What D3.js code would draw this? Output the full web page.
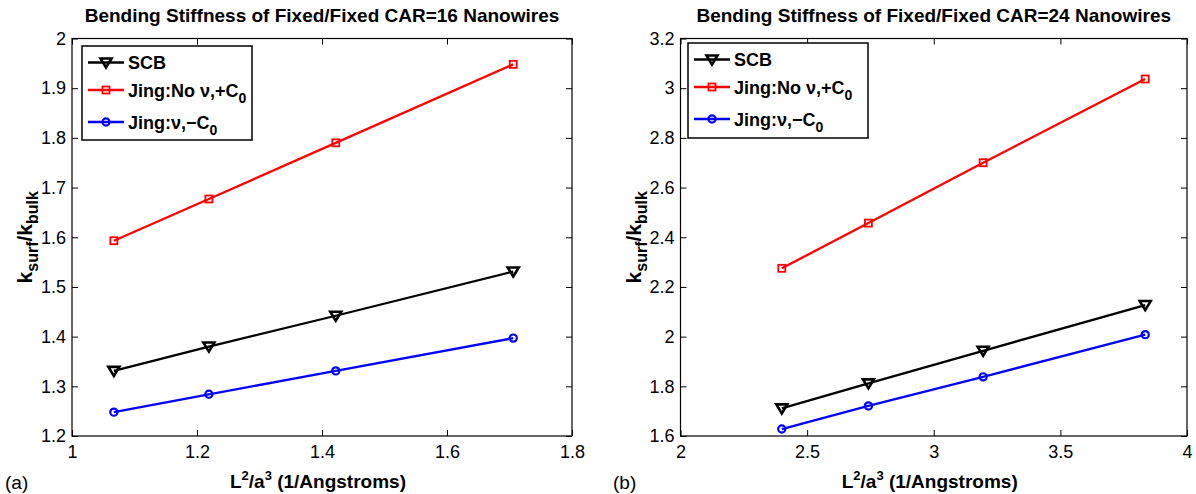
<!DOCTYPE html>
<html><head><meta charset="utf-8">
<script src="https://cdn.jsdelivr.net/npm/d3@7"></script>
<style>
body{margin:0;background:#fff}
text{font-family:"Liberation Sans",Arial,Helvetica,sans-serif;fill:#000}
</style>
</head><body>
<svg id="c" width="1196" height="494"></svg>
<script>
// ---- data ----
const seriesNames = ["SCB", "Jing:No ν,+C", "Jing:ν,−C"];
const seriesColors = ["#000000", "#ff0000", "#0000ff"];
const xA = [1.067, 1.219, 1.422, 1.706];
const scbA = [1.331, 1.380, 1.442, 1.531];
const jingNoNuA = [1.593, 1.677, 1.790, 1.948];
const jingNuA = [1.248, 1.284, 1.331, 1.397];
const xB = [2.400, 2.742, 3.195, 3.835];
const scbB = [1.711, 1.812, 1.943, 2.127];
const jingNoNuB = [2.275, 2.457, 2.700, 3.037];
const jingNuB = [1.628, 1.721, 1.838, 2.008];
const xTicksA = [1, 1.2, 1.4, 1.6, 1.8];
const yTicksA = [1.2, 1.3, 1.4, 1.5, 1.6, 1.7, 1.8, 1.9, 2];
const xTicksB = [2, 2.5, 3, 3.5, 4];
const yTicksB = [1.6, 1.8, 2, 2.2, 2.4, 2.6, 2.8, 3, 3.2];
const titles = ["Bending Stiffness of Fixed/Fixed CAR=16 Nanowires",
                "Bending Stiffness of Fixed/Fixed CAR=24 Nanowires"];
const panelLabels = ["(a)", "(b)"];

const svg = d3.select("#c");

const panels = [
  {x0: 72, x1: 572, y0: 38.5, y1: 436, xd: [1, 1.8], yd: [1.2, 2], xt: xTicksA, yt: yTicksA,
   xs: xA, ys: [scbA, jingNoNuA, jingNuA], title: titles[0], lab: panelLabels[0], labX: 5,
   leg: {x: 82, y: 46, w: 170, h: 94}},
  {x0: 680.5, x1: 1187, y0: 38.5, y1: 436, xd: [2, 4], yd: [1.6, 3.2], xt: xTicksB, yt: yTicksB,
   xs: xB, ys: [scbB, jingNoNuB, jingNuB], title: titles[1], lab: panelLabels[1], labX: 613,
   leg: {x: 688, y: 43, w: 180, h: 95}}
];

const fmt = d => String(+d.toFixed(2));

function marker(g, i, cx, cy) {
  const c = seriesColors[i];
  if (i === 0) {
    g.append("path").attr("d", `M${cx-5.5},${cy-4} L${cx+5.5},${cy-4} L${cx},${cy+5} Z`)
      .attr("fill", "none").attr("stroke", c).attr("stroke-width", 2.6).attr("stroke-linejoin", "miter");
  } else if (i === 1) {
    g.append("rect").attr("x", cx-3.5).attr("y", cy-3.5).attr("width", 7).attr("height", 7)
      .attr("fill", "none").attr("stroke", c).attr("stroke-width", 1.8);
  } else {
    g.append("circle").attr("cx", cx).attr("cy", cy).attr("r", 3.6)
      .attr("fill", "none").attr("stroke", c).attr("stroke-width", 2.2);
  }
}

panels.forEach(p => {
  const x = d3.scaleLinear().domain(p.xd).range([p.x0, p.x1]);
  const y = d3.scaleLinear().domain(p.yd).range([p.y1, p.y0]);
  const g = svg.append("g");

  const ax = (gen, tr) => {
    const a = g.append("g").attr("transform", tr).call(gen);
    a.select(".domain").remove();
    a.selectAll("line").attr("stroke", "#000").attr("stroke-width", 1);
    return a;
  };
  const bx = ax(d3.axisBottom(x).tickValues(p.xt).tickFormat(fmt).tickSize(-6).tickPadding(9), `translate(0,${p.y1})`);
  bx.selectAll("text").attr("font-size", 18).attr("fill", "#000");
  ax(d3.axisTop(x).tickValues(p.xt).tickFormat("").tickSize(-6), `translate(0,${p.y0})`);
  const ly = ax(d3.axisLeft(y).tickValues(p.yt).tickFormat(fmt).tickSize(-6).tickPadding(6), `translate(${p.x0},0)`);
  ly.selectAll("text").attr("font-size", 18).attr("fill", "#000");
  ax(d3.axisRight(y).tickValues(p.yt).tickFormat("").tickSize(-6), `translate(${p.x1},0)`);
  g.selectAll(".tick text").attr("font-family", "'Liberation Sans',Arial,sans-serif");

  g.append("rect").attr("x", p.x0).attr("y", p.y0).attr("width", p.x1 - p.x0).attr("height", p.y1 - p.y0)
    .attr("fill", "none").attr("stroke", "#000").attr("stroke-width", 1.2);

  const line = d3.line().x(d => x(d[0])).y(d => y(d[1]));
  p.ys.forEach((vals, i) => {
    const pts = p.xs.map((xv, k) => [xv, vals[k]]);
    g.append("path").attr("d", line(pts)).attr("fill", "none")
      .attr("stroke", seriesColors[i]).attr("stroke-width", 2.3);
    pts.forEach(d => marker(g, i, x(d[0]), y(d[1])));
  });

  // legend
  const L = p.leg;
  g.append("rect").attr("x", L.x).attr("y", L.y).attr("width", L.w).attr("height", L.h)
    .attr("fill", "#fff").attr("stroke", "#000").attr("stroke-width", 1.5);
  const rowY = [L.y + 16.5, L.y + 44, L.y + 76];
  seriesNames.forEach((nm, i) => {
    const ry = rowY[i];
    g.append("line").attr("x1", L.x + 6).attr("x2", L.x + 42).attr("y1", ry).attr("y2", ry)
      .attr("stroke", seriesColors[i]).attr("stroke-width", 2.3);
    marker(g, i, L.x + 24, ry);
    const t = g.append("text").attr("x", L.x + 46).attr("y", ry + 6.5)
      .attr("font-size", 18).attr("font-weight", "bold");
    t.append("tspan").text(nm);
    if (i > 0) t.append("tspan").attr("dy", 6).attr("font-size", 14).text("0");
  });

  // title
  g.append("text").attr("x", (p.x0 + p.x1) / 2).attr("y", 22).attr("text-anchor", "middle")
    .attr("font-size", 19).attr("font-weight", "bold").text(p.title);

  // x label
  const xl = g.append("text").attr("x", (p.x0 + p.x1) / 2 - 4).attr("y", 488).attr("text-anchor", "middle")
    .attr("font-size", 19).attr("font-weight", "bold");
  xl.append("tspan").text("L");
  xl.append("tspan").attr("dy", -8).attr("font-size", 13).text("2");
  xl.append("tspan").attr("dy", 8).text("/a");
  xl.append("tspan").attr("dy", -8).attr("font-size", 13).text("3");
  xl.append("tspan").attr("dy", 8).text(" (1/Angstroms)");

  // y label
  const yl = g.append("text").attr("transform", `translate(${p.x0 - 40},${(p.y0 + p.y1) / 2}) rotate(-90)`)
    .attr("text-anchor", "middle").attr("font-size", 21).attr("font-weight", "bold");
  yl.append("tspan").text("k");
  yl.append("tspan").attr("dy", 6).attr("font-size", 16).text("surf");
  yl.append("tspan").attr("dy", -6).text("/k");
  yl.append("tspan").attr("dy", 6).attr("font-size", 16).text("bulk");

  // panel label
  svg.append("text").attr("x", p.labX).attr("y", 489).attr("font-size", 19).text(p.lab);
});
</script>
</body></html>
